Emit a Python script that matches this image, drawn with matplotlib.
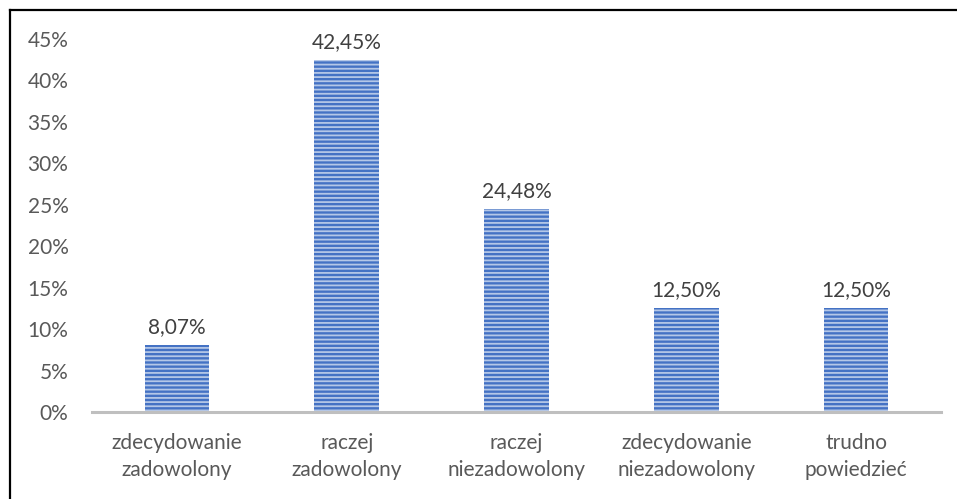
import matplotlib.pyplot as plt
from matplotlib.ticker import FuncFormatter
from matplotlib.lines import Line2D

categories = ['zdecydowanie\nzadowolony', 'raczej\nzadowolony', 'raczej\nniezadowolony',
              'zdecydowanie\nniezadowolony', 'trudno\npowiedzieć']
values = [8.07, 42.45, 24.48, 12.50, 12.50]
labels = ['8,07%', '42,45%', '24,48%', '12,50%', '12,50%']
yticks = [0, 5, 10, 15, 20, 25, 30, 35, 40, 45]

plt.rcParams['font.family'] = ['Lato', 'DejaVu Sans']
plt.rcParams['hatch.linewidth'] = 1.3
txt = '#595959'
fs = 15

fig = plt.figure(figsize=(9.57, 4.99), dpi=100)
ax = fig.add_axes([92 / 957, 1 - 412 / 499, (941 - 92) / 957, (412 - 39) / 499])

x = range(len(categories))
ax.bar(x, values, width=0.38, color='#4472C4', edgecolor='#B4C7E7',
       hatch='----', linewidth=0, zorder=2)

for xi, v, lab in zip(x, values, labels):
    ax.annotate(lab, (xi, v), xytext=(0, 6), textcoords='offset points',
                ha='center', va='bottom', fontsize=fs, color='#404040')

ax.set_xlim(-0.5, len(categories) - 0.5)
ax.set_ylim(0, 45)
ax.set_yticks(yticks)
ax.yaxis.set_major_formatter(FuncFormatter(lambda v, p: f'{v:.0f}%'))
ax.set_xticks(list(x))
ax.set_xticklabels(categories, linespacing=1.45)
ax.tick_params(axis='both', length=0, labelsize=fs, labelcolor=txt)
ax.tick_params(axis='y', pad=17)
ax.tick_params(axis='x', pad=15)

for s in ['top', 'right', 'left']:
    ax.spines[s].set_visible(False)
ax.spines['bottom'].set_color('#BFBFBF')
ax.spines['bottom'].set_linewidth(2.2)
ax.spines['bottom'].set_zorder(3)

# outer frame (left and top edges visible)
fig.add_artist(Line2D([9.5 / 957, 9.5 / 957], [0, 1 - 10 / 499], color='black', lw=1.6,
                      transform=fig.transFigure))
fig.add_artist(Line2D([9.5 / 957, 1], [1 - 10 / 499, 1 - 10 / 499], color='black', lw=1.6,
                      transform=fig.transFigure))

plt.savefig('out.png', dpi=100)
